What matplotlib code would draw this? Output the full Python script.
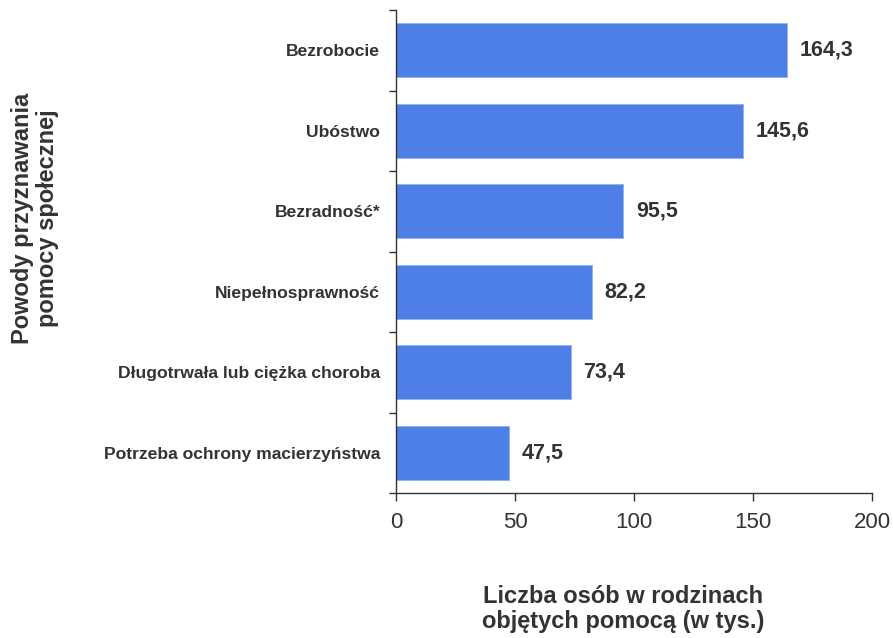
import numpy as np
import matplotlib
matplotlib.use("Agg")
import matplotlib.pyplot as plt

plt.rcParams["font.family"] = ["Liberation Sans", "DejaVu Sans"]

categories = [
    "Bezrobocie",
    "Ubóstwo",
    "Bezradność*",
    "Niepełnosprawność",
    "Długotrwała lub ciężka choroba",
    "Potrzeba ochrony macierzyństwa",
]
values = [164.3, 145.6, 95.5, 82.2, 73.4, 47.5]
value_labels = ["164,3", "145,6", "95,5", "82,2", "73,4", "47,5"]
x_ticks = [0, 50, 100, 150, 200]

TEXT = "#333333"
BAR = "#4d7fe6"

fig = plt.figure(figsize=(8.93, 6.38), dpi=100)
ax = fig.add_axes([396 / 893, 1 - 493 / 638, 476 / 893, 483 / 638])

y = np.arange(len(categories))[::-1]
ax.barh(y, values, height=0.67, color=BAR, edgecolor="#8fb0f0", linewidth=0.6)

for yi, v, lab in zip(y, values, value_labels):
    ax.text(v + 5.3, yi, lab, va="center", ha="left", fontsize=15.5,
            fontweight="bold", color=TEXT)

ax.set_xlim(0, 200)
ax.set_ylim(-0.5, len(categories) - 0.5)
ax.set_xticks(x_ticks)
ax.set_xticklabels([str(t) for t in x_ticks], fontsize=16, color=TEXT)
ax.set_yticks(y)
ax.set_yticklabels(categories, fontsize=12.6, fontweight="bold", color=TEXT)
ax.set_yticks(np.arange(-0.5, len(categories), 1), minor=True)

ax.tick_params(axis="y", which="major", length=0, pad=11.5)
ax.tick_params(axis="y", which="minor", length=5, width=1, color="#333333")
ax.tick_params(axis="x", which="major", length=6, width=1, color="#333333", pad=8)

for s in ("top", "right"):
    ax.spines[s].set_visible(False)
for s in ("left", "bottom"):
    ax.spines[s].set_color("#333333")
    ax.spines[s].set_linewidth(1)

fig.text(623 / 893, 1 - 609 / 638, "Liczba osób w rodzinach\nobjętych pomocą (w tys.)",
         ha="center", va="center", fontsize=17, fontweight="bold", color=TEXT,
         linespacing=1.1)
fig.text(35 / 893, 1 - 218 / 638, "Powody przyznawania\npomocy społecznej",
         ha="center", va="center", rotation=90, fontsize=17, fontweight="bold",
         color=TEXT, linespacing=1.1)

fig.savefig("out.png", dpi=100)
